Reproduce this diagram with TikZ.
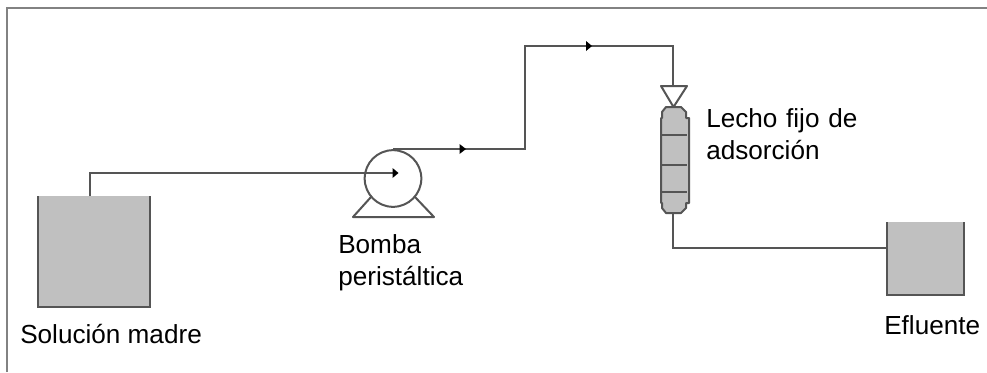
\documentclass[tikz,border=0pt]{standalone}
\usepackage{fontspec}
\setmainfont{Liberation Sans}
\definecolor{fillgray}{RGB}{192,192,192}
\definecolor{linegray}{RGB}{85,85,85}
\definecolor{framegray}{RGB}{130,130,130}
\tikzset{
  pipe/.style={draw=linegray,line width=1.5pt},
  wall/.style={draw=linegray,line width=1.5pt},
  lbl/.style={font=\fontsize{19.6pt}{24pt}\selectfont,text=black,inner sep=0pt,anchor=west,align=left},
  tip/.style={fill=black,draw=none}
}
\begin{document}
\begin{tikzpicture}[x=0.75pt,y=-0.75pt]
\useasboundingbox (0,0) rectangle (987,372);
\fill[white] (0,0) rectangle (987,372);
\coordinate (frameTL) at (7,8);
\coordinate (frameBR) at (987,372);
\draw[framegray,line width=1.5pt] (frameTL |- frameBR) -- (frameTL) -- (frameBR |- frameTL);
% tanks
\coordinate (tankA) at (38,196);
\coordinate (tankB) at (150,307);
\fill[fillgray] (tankA) rectangle (tankB);
\draw[wall] (tankA) -- (tankA |- tankB) -- (tankB) -- (tankB |- tankA);
\coordinate (effA) at (887,222);
\coordinate (effB) at (964,295);
\fill[fillgray] (effA) rectangle (effB);
\draw[wall] (effA) -- (effA |- effB) -- (effB) -- (effB |- effA);
% pump
\node[circle,draw=linegray,line width=1.5pt,minimum size=42.5pt,inner sep=0pt] (pump) at (393,178.5) {};
\coordinate (baseL) at (353,217);
\coordinate (baseR) at (434,217);
\draw[pipe,line join=round] (371,197) -- (baseL) -- (baseR) -- (415,197);
% column
\coordinate (nozzleL) at (661,86);
\coordinate (nozzleR) at (687,86);
\coordinate (nozzleTip) at (673.5,107);
\draw[pipe,line join=round] (nozzleL) -- (nozzleR) -- (nozzleTip) -- cycle;
\path[fill=fillgray,draw=linegray,line width=1.5pt,line join=round]
  (666,107) -- (681,107) -- (686,112) -- (686,118) -- (689,118) -- (689,203) -- (686,203) -- (686,208) -- (681,213) -- (666,213) -- (662,208) -- (662,203) -- (661,203) -- (661,118) -- (662,118) -- (662,112) -- cycle;
\draw[pipe] (662,135) -- (687,135);
\draw[pipe] (662,165) -- (687,165);
\draw[pipe] (662,192) -- (687,192);
\coordinate (colBottom) at (673,213);
% pipes
\coordinate (p1) at (90,173);
\coordinate (c1) at (393,173);
\draw[pipe] (90,196) -- (p1) -- (c1);
\draw[pipe] (393,149) -- (525,149) -- (525,46) -- (673,46) -- (673,86);
\draw[pipe] (colBottom) -- (673,248) -- (effA |- 0,248);
% arrowheads
\fill[tip] (392.5,168) -- (398.5,173) -- (392.5,178) -- cycle;
\fill[tip] (459.5,144) -- (466,149) -- (459.5,154) -- cycle;
\fill[tip] (586,41) -- (592,46) -- (586,51) -- cycle;
% labels
\node[lbl] (t1) at (20,334) {Solución madre};
\node[lbl,text width=130pt] (t2) at (338,263) {Bomba\\peristáltica};
\node[lbl,text width=170pt] (t3) at (706,134.5) {Lecho fijo de\\adsorción};
\node[lbl] (t4) at (884,325) {Efluente};
\end{tikzpicture}
\end{document}
